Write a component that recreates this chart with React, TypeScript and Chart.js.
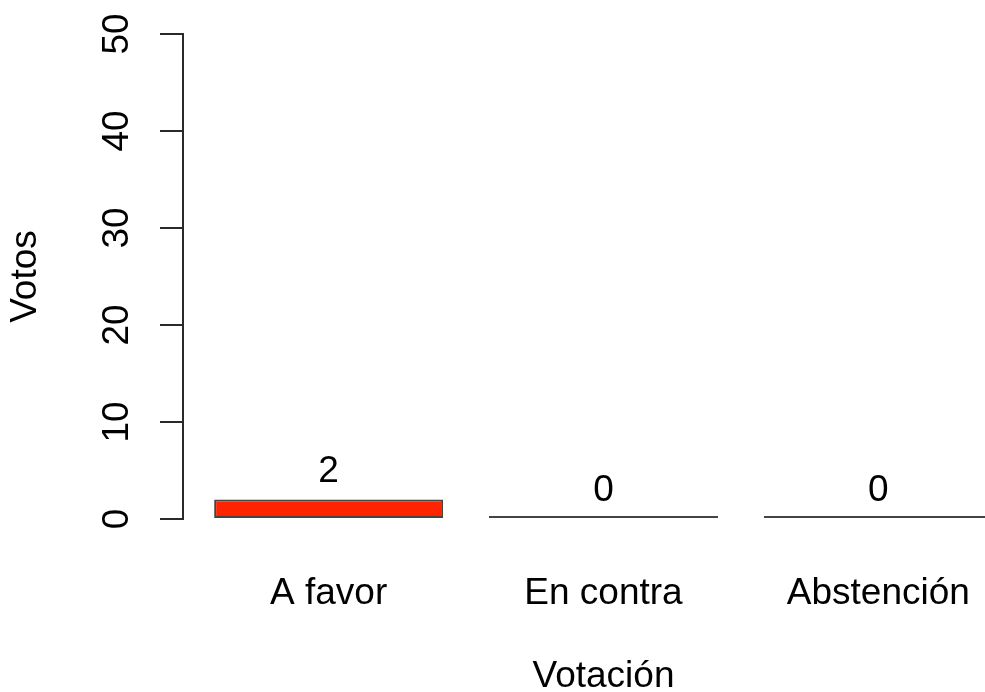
import React, { useEffect, useRef } from "react";
import { Chart, registerables } from "chart.js";

Chart.register(...registerables);

const categories: string[] = ["A favor", "En contra", "Abstención"];
const votes: number[] = [2, 0, 0];
const yTicks: number[] = [0, 10, 20, 30, 40, 50];
const xTitle = "Votación";
const yTitle = "Votos";

const FAMILY = '"Liberation Sans", Arial, Helvetica, sans-serif';
const FS = 37;
const BAR_FILL = "#ff2400";
const LINE = "#2a2a2a";

// R barplot geometry: width 1, space 0.2, 4% axis extension
const SPACE = 0.2;
const barCenter = (i: number) => SPACE + i * (1 + SPACE) + 0.5;
const rawMin = SPACE;
const rawMax = categories.length * (1 + SPACE);
const ext = (rawMax - rawMin) * 0.04;
const X_MIN = rawMin - ext;
const X_MAX = rawMax + ext;

const rLabels = {
  id: "rLabels",
  afterDraw(chart: any) {
    const ctx = chart.ctx as CanvasRenderingContext2D;
    const y = chart.scales.y;
    ctx.save();
    ctx.fillStyle = "#000";
    ctx.font = `${FS}px ${FAMILY}`;
    ctx.textAlign = "center";
    ctx.textBaseline = "alphabetic";
    yTicks.forEach((v) => {
      const py = y.getPixelForValue(v);
      ctx.save();
      ctx.translate(y.right - 55, py);
      ctx.rotate(-Math.PI / 2);
      ctx.fillText(String(v), 0, 0);
      ctx.restore();
    });
    const meta = chart.getDatasetMeta(0);
    meta.data.forEach((bar: any, i: number) => {
      ctx.fillText(String(votes[i]), bar.x, y.getPixelForValue(votes[i]) - 18);
    });
    ctx.restore();
  },
};

export default function App() {
  const ref = useRef<HTMLCanvasElement | null>(null);
  useEffect(() => {
    if (!ref.current) return;
    const chart = new Chart(ref.current, {
      type: "bar",
      data: {
        datasets: [
          {
            data: votes.map((v, i) => ({ x: barCenter(i), y: v })),
            backgroundColor: BAR_FILL,
            borderColor: "#444",
            borderWidth: 2,
            borderSkipped: false,
            minBarLength: 3,
            barPercentage: 1 / (1 + SPACE),
            categoryPercentage: 1,
          } as any,
        ],
      },
      options: {
        animation: false,
        responsive: false,
        devicePixelRatio: 1,
        layout: { padding: { top: 34, left: 0, right: 0, bottom: 0 } },
        plugins: { legend: { display: false }, tooltip: { enabled: false } },
        scales: {
          x: {
            type: "linear",
            offset: false,
            min: X_MIN,
            max: X_MAX,
            afterBuildTicks: (s: any) => {
              s.ticks = categories.map((_, i) => ({ value: barCenter(i) }));
            },
            afterFit: (s: any) => {
              s.height = 173;
            },
            grid: { display: false, offset: false },
            border: { display: false },
            ticks: {
              autoSkip: false,
              maxRotation: 0,
              minRotation: 0,
              padding: 45,
              color: "#000",
              font: { family: FAMILY, size: FS },
              callback: (_v: any, i: number) => categories[i],
            },
            title: {
              display: true,
              text: xTitle,
              color: "#000",
              font: { family: FAMILY, size: FS, lineHeight: 0.84 },
              padding: 0,
            },
          },
          y: {
            min: 0,
            max: 50,
            afterBuildTicks: (s: any) => {
              s.ticks = yTicks.map((v) => ({ value: v }));
            },
            afterFit: (s: any) => {
              s.width = 183;
            },
            grid: {
              display: true,
              drawOnChartArea: false,
              drawTicks: true,
              tickLength: 23,
              color: LINE,
              lineWidth: 2,
            },
            border: { display: true, color: LINE, width: 2 },
            ticks: { display: false },
            title: {
              display: true,
              text: yTitle,
              color: "#000",
              font: { family: FAMILY, size: FS },
              padding: { top: 4, bottom: 0 },
            },
          },
        },
      },
      plugins: [rLabels],
    });
    return () => chart.destroy();
  }, []);
  return (
    <div
      style={{
        position: "absolute",
        left: 0,
        top: 0,
        width: 985,
        height: 692,
        overflow: "hidden",
        background: "#fff",
      }}
    >
      <canvas ref={ref} width={1024} height={692} style={{ width: 1024, height: 692, display: "block" }} />
    </div>
  );
}
